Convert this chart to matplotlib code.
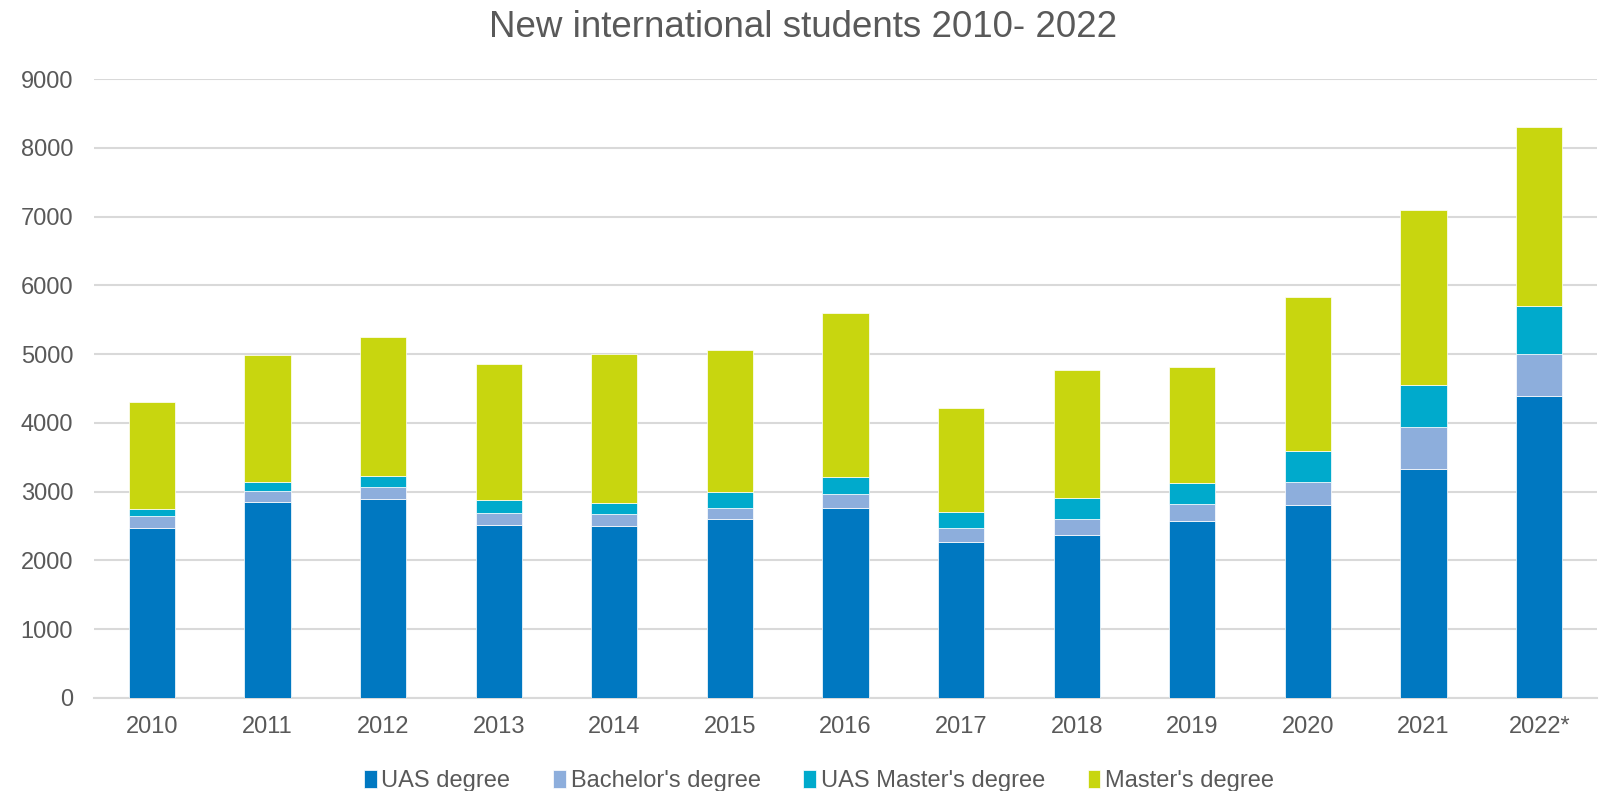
import matplotlib
matplotlib.use("Agg")
import matplotlib.pyplot as plt
import numpy as np

years = ["2010", "2011", "2012", "2013", "2014", "2015", "2016", "2017", "2018", "2019", "2020", "2021", "2022*"]
uas_degree = [2470, 2850, 2895, 2520, 2505, 2600, 2765, 2275, 2370, 2575, 2800, 3335, 4395]
bachelor_degree = [175, 165, 175, 165, 165, 165, 195, 195, 230, 240, 345, 605, 610]
uas_master_degree = [100, 130, 160, 190, 165, 235, 255, 240, 315, 310, 445, 615, 695]
master_degree = [1560, 1845, 2020, 1980, 2165, 2065, 2390, 1500, 1850, 1695, 2235, 2540, 2600]

series_names = ["UAS degree", "Bachelor's degree", "UAS Master's degree", "Master's degree"]
colors = ["#0078C1", "#8DAEDC", "#00AACC", "#C8D60F"]

plt.rcParams['font.family'] = ['Liberation Sans', 'DejaVu Sans']

fig = plt.figure(figsize=(16.07, 7.91), dpi=100)
ax = fig.add_axes([0.0585, 0.1176, 0.9353, 0.7824])

x = np.arange(len(years))
bottom = np.zeros(len(years))
for vals, name, c in zip([uas_degree, bachelor_degree, uas_master_degree, master_degree], series_names, colors):
    ax.bar(x, vals, width=0.4, bottom=bottom, color=c, label=name, edgecolor='white', linewidth=0.5, zorder=3)
    bottom += np.array(vals)

ax.set_xlim(-0.5, len(years) - 0.5)
ax.set_ylim(0, 9000)
ax.set_yticks(np.arange(0, 9001, 1000))
ax.set_xticks(x)
ax.set_xticklabels(years)
ax.grid(axis='y', color='#D9D9D9', linewidth=1.5, zorder=0)
ax.set_axisbelow(True)
for s in ['top', 'right', 'left']:
    ax.spines[s].set_visible(False)
ax.spines['bottom'].set_color('#D9D9D9')
ax.spines['bottom'].set_linewidth(1.5)
ax.tick_params(axis='both', length=0, labelsize=17, colors='#595959')
ax.tick_params(axis='x', pad=13)
ax.tick_params(axis='y', pad=15)

fig.text(0.5, 0.965, "New international students 2010- 2022", ha='center', va='center',
         fontsize=26.5, color='#595959')

fig.legend(loc='center', bbox_to_anchor=(0.5096, 0.013), ncol=4, frameon=False,
           fontsize=17, labelcolor='#595959', handlelength=0.55, handleheight=0.8,
           handletextpad=0.2, columnspacing=1.8)

fig.savefig("out.png", dpi=100)
